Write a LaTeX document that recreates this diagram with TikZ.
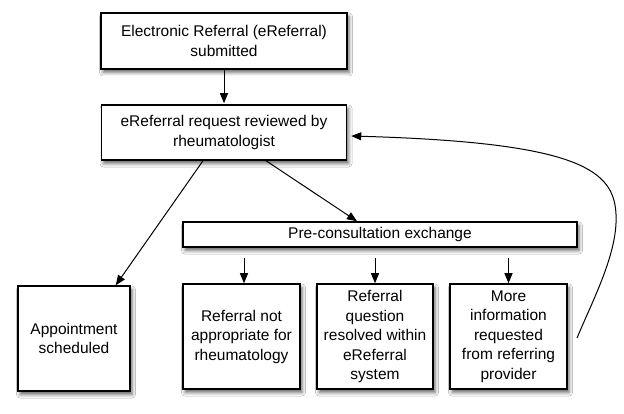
\documentclass[tikz,border=0pt]{standalone}
\usepackage{fontspec}
\setmainfont{Liberation Sans}
\usetikzlibrary{arrows.meta,shadows.blur,calc}
\begin{document}
\begin{tikzpicture}[x=1pt,y=-1pt,
  box/.style={draw=black,line width=1.5pt,fill=white,align=center,inner sep=0pt,
    font=\fontsize{15.5}{19.5}\selectfont,
    blur shadow={shadow xshift=2pt,shadow yshift=-3.5pt,shadow blur radius=3.5pt,shadow opacity=60}},
  arr/.style={draw=black,line width=1pt,-{Triangle[length=10pt,width=8pt]}}]
\useasboundingbox[fill=white] (0,0) rectangle (624,414);
\node[box,minimum width=246pt,minimum height=56pt] (b1) at (224,41)
  {Electronic Referral (eReferral)\\submitted};
\node[box,minimum width=245pt,minimum height=55pt] (b2) at (224,132.5)
  {eReferral request reviewed by\\rheumatologist};
\node[box,minimum width=394pt,minimum height=25pt] (pre) at (380,234.5)
  {Pre-consultation exchange};
\node[box,minimum width=112pt,minimum height=105pt] (app) at (74,338.5)
  {Appointment\\scheduled};
\node[box,minimum width=117pt,minimum height=105pt] (na) at (241.5,336.5)
  {Referral not\\appropriate for\\rheumatology};
\node[box,minimum width=116pt,minimum height=105pt] (rq) at (375,336.5)
  {Referral\\question\\resolved within\\eReferral\\system};
\node[box,minimum width=117pt,minimum height=105pt] (mi) at (508.5,336.5)
  {More\\information\\requested\\from referring\\provider};
\coordinate (fb) at (577,338);
\draw[arr] (b1.south) -- ([yshift=1pt]b2.north);
\draw[arr] ([xshift=-21pt]b2.south) -- ([xshift=-15pt]app.north east);
\draw[arr] ([xshift=42pt]b2.south) -- ([xshift=-23pt]pre.north);
\draw[arr] ($(pre.south -| na.north)+(2.5,10)$) -- ([xshift=2.5pt]na.north);
\draw[arr] ($(pre.south -| rq.north)+(0,10)$) -- (rq.north);
\draw[arr] ($(pre.south -| mi.north)+(0,10)$) -- (mi.north);
\draw[arr] (fb) .. controls (595,295) and (622,245) .. (615,205)
  .. controls (608,165) and (560,142) .. ([xshift=4pt,yshift=-3.5pt]b2.east);
\end{tikzpicture}
\end{document}
